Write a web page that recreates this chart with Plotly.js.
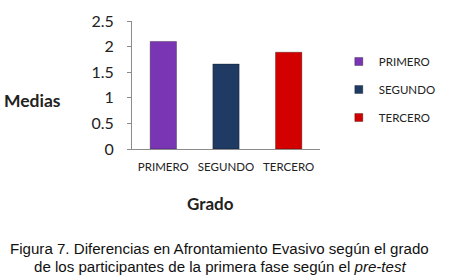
<!DOCTYPE html>
<html><head><meta charset="utf-8">
<script src="https://cdn.plot.ly/plotly-3.0.1.min.js"></script>
<style>html,body{margin:0;padding:0;background:#fff}#c{width:453px;height:280px}</style>
</head><body><div id="c"></div>
<script>
const categories = ["PRIMERO", "SEGUNDO", "TERCERO"];
const values = [2.10, 1.66, 1.89];
const colors = ["#7A35B4", "#1F3B63", "#D30000"];
const yTicks = [0, 0.5, 1, 1.5, 2, 2.5];

const bars = categories.map((c, i) => ({
  type: "bar", x: [c], y: [values[i]], name: c, showlegend: false,
  width: 0.42,
  marker: { color: colors[i], line: { color: "rgba(0,0,0,0.3)", width: 1 } },
  hoverinfo: "none"
}));
const legendItems = categories.map((c, i) => ({
  type: "scatter", mode: "markers", x: [null], y: [null], name: c, legendgroup: c,
  marker: { symbol: "square", size: 8, color: colors[i], line: { color: "rgba(0,0,0,0.3)", width: 1 } },
  hoverinfo: "none"
}));

const layout = {
  width: 453, height: 280,
  margin: { l: 132, r: 116, t: 21, b: 131 },
  paper_bgcolor: "#fff", plot_bgcolor: "#fff",
  barmode: "overlay",
  font: { family: "Lato, 'Open Sans', sans-serif", color: "#222" },
  xaxis: {
    type: "category", categoryarray: categories, range: [-0.5, 2.5],
    showline: true, linecolor: "#8c8c8c", linewidth: 1, ticks: "", showgrid: false,
    tickfont: { size: 11.5, color: "#222" }, zeroline: false, ticklabelstandoff: 7
  },
  yaxis: {
    range: [0, 2.5], tickvals: yTicks, ticktext: yTicks.map(String),
    showline: true, linecolor: "#8c8c8c", linewidth: 1, ticks: "outside", ticklen: 4,
    tickcolor: "#8c8c8c", showgrid: false,
    tickfont: { size: 16, color: "#222" }, zeroline: false, ticklabelstandoff: 10
  },
  showlegend: true,
  legend: {
    x: 1.10, y: 0.797, xanchor: "left", yanchor: "top",
    font: { size: 11.5, color: "#222" }, tracegroupgap: 9, traceorder: "grouped"
  },
  annotations: [
    { text: "<b>Medias</b>", xref: "paper", yref: "paper", x: -0.692, y: 0.379,
      xanchor: "left", yanchor: "middle", showarrow: false, font: { size: 17.5, color: "#222" } },
    { text: "<b>Grado</b>", xref: "paper", yref: "paper", x: 0.415, y: -0.422,
      xanchor: "center", yanchor: "middle", showarrow: false, font: { size: 17, color: "#222" } },
    { text: "Figura 7. Diferencias en Afrontamiento Evasivo según el grado",
      xref: "paper", yref: "paper", x: 0.463, y: -0.775, xanchor: "center", yanchor: "middle",
      showarrow: false,
      font: { size: 15.1, family: "'Liberation Sans', Arial, sans-serif", color: "#111" } },
    { text: "de los participantes de la primera fase según el <i>pre-test</i>",
      xref: "paper", yref: "paper", x: 0.468, y: -0.92, xanchor: "center", yanchor: "middle",
      showarrow: false,
      font: { size: 15.1, family: "'Liberation Sans', Arial, sans-serif", color: "#111" } }
  ]
};
Plotly.newPlot("c", bars.concat(legendItems), layout, { displayModeBar: false, staticPlot: true });
</script></body></html>
